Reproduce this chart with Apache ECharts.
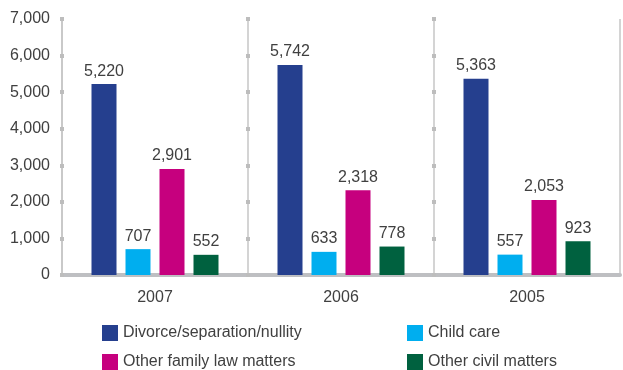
<!DOCTYPE html>
<html><head><meta charset="utf-8">
<script src="https://cdn.jsdelivr.net/npm/echarts@6/dist/echarts.min.js"></script>
<style>html,body{margin:0;padding:0;background:#fff}#c{width:623px;height:370px}</style>
</head><body><div id="c"></div>
<script>
var categories = ['2007', '2006', '2005'];
var seriesNames = ['Divorce/separation/nullity', 'Child care', 'Other family law matters', 'Other civil matters'];
var divorce = [5220, 5742, 5363];
var childCare = [707, 633, 557];
var otherFamily = [2901, 2318, 2053];
var otherCivil = [552, 778, 923];
var yTicks = [0, 1000, 2000, 3000, 4000, 5000, 6000, 7000];
var colors = ['#253f8e', '#00aeef', '#c6007e', '#00613f'];

var font = 'Liberation Sans, Arial, sans-serif';
var txt = '#404040';
var values = [divorce, childCare, otherFamily, otherCivil];
var chart = echarts.init(document.getElementById('c'));
function fmt(v){ return v.toLocaleString('en-US'); }
function tickAxis(off){
  return {type:'value', min:yTicks[0], max:yTicks[yTicks.length-1], interval:1000, position:'left', offset:off,
    axisLine:{show:false}, splitLine:{show:false}, axisLabel:{show:false},
    axisTick:{show:true, inside:true, length:4, lineStyle:{color:'#bdbdbd', width:4}}};
}
var yAxes = [
  {type:'value', min:yTicks[0], max:yTicks[yTicks.length-1], interval:1000,
   axisLine:{show:true, lineStyle:{color:'#c6c6c6', width:1.5}}, axisTick:{show:false}, splitLine:{show:false},
   axisLabel:{fontSize:16, color:txt, fontFamily:font, margin:12, formatter:function(v){return fmt(v);}}},
  tickAxis(2), tickAxis(-184), tickAxis(-370)
];
var series = values.map(function(arr, i){
  return {name:seriesNames[i], type:'bar', data:arr, barWidth:25, barGap:'36%',
    itemStyle:{color:colors[i]},
    label:{show:true, position:'top', distance:5, fontSize:16, color:txt, fontFamily:font,
      formatter:function(p){return fmt(p.value);}}};
});
var legendPos = [[102, 325], [407, 325], [102, 354], [407, 354]];
var legends = seriesNames.map(function(n, i){
  return {data:[n], left:legendPos[i][0], top:legendPos[i][1], padding:0, itemWidth:16, itemHeight:16,
    icon:'rect', textStyle:{fontSize:16, color:txt, fontFamily:font}};
});
chart.setOption({
  animation:false,
  color:colors,
  grid:{left:62, right:3, top:19, bottom:95},
  xAxis:{type:'category', data:categories,
    axisLine:{lineStyle:{color:'#bebfc2', width:4}},
    axisTick:{show:false},
    splitLine:{show:true, interval:0, lineStyle:{color:'#c6c6c6', width:1.5}},
    axisLabel:{fontSize:16, color:txt, fontFamily:font, margin:15}},
  yAxis:yAxes,
  legend:legends,
  series:series
});
</script></body></html>
